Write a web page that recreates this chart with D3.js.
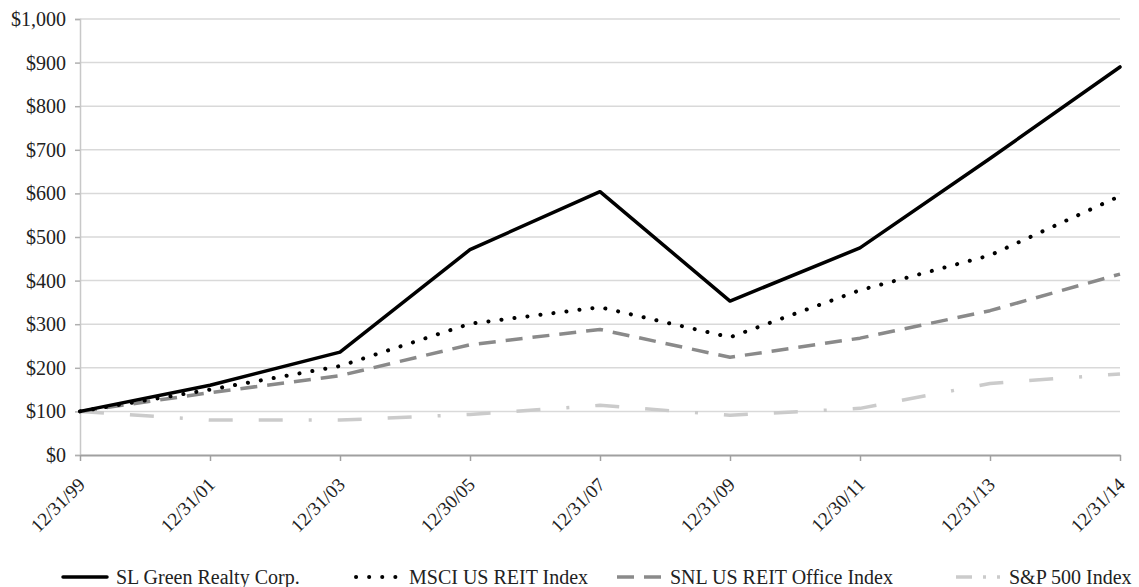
<!DOCTYPE html>
<html>
<head>
<meta charset="utf-8">
<script src="https://cdn.jsdelivr.net/npm/d3@7"></script>
<style>
  body { margin: 0; background: #fff; }
  text { font-family: "Liberation Serif", "Times New Roman", serif; fill: #222; }
</style>
</head>
<body>
<div id="chart"></div>
<script>
// values
var dates = ["12/31/99", "12/31/01", "12/31/03", "12/30/05", "12/31/07", "12/31/09", "12/30/11", "12/31/13", "12/31/14"];
var slGreen = [100, 160, 236, 471, 604, 353, 475, 680, 890];
var msci = [100, 150, 204, 301, 339, 270, 378, 458, 594];
var snl = [100, 143, 182, 253, 288, 224, 268, 331, 415];
var sp500 = [100, 80, 80, 93, 114, 91, 107, 164, 186];
var seriesNames = ["SL Green Realty Corp.", "MSCI US REIT Index", "SNL US REIT Office Index", "S&P 500 Index"];
var yTicks = [0, 100, 200, 300, 400, 500, 600, 700, 800, 900, 1000];

let width = 1139, height = 587;
let svg = d3.select("#chart").append("svg")
  .attr("width", width)
  .attr("height", height);

var x = d3.scalePoint().domain(dates).range([80, 1120]);
var y = d3.scaleLinear().domain([0, 1000]).range([455, 19]);

// gridlines
svg.append("g")
  .selectAll("line")
  .data(yTicks.slice(1))
  .enter()
  .append("line")
  .attr("x1", 80).attr("x2", 1120)
  .attr("y1", d => y(d)).attr("y2", d => y(d))
  .attr("stroke", "#d9d9d9")
  .attr("stroke-width", 1.5);

// y axis
var yAxis = svg.append("g")
  .attr("transform", "translate(80,0)")
  .call(d3.axisLeft(y).tickValues(yTicks).tickSize(5).tickPadding(9)
    .tickFormat(d => "$" + d3.format(",")(d)));
yAxis.select(".domain").attr("stroke", "#c8c8c8").attr("stroke-width", 1.5);
yAxis.selectAll(".tick line").attr("stroke", "#b0b0b0").attr("stroke-width", 1.5);
yAxis.selectAll("text").attr("font-size", 20).attr("fill", "#222");

// x axis
var xAxis = svg.append("g")
  .attr("transform", "translate(0,455)")
  .call(d3.axisBottom(x).tickSize(6).tickSizeOuter(0));
xAxis.select(".domain").attr("stroke", "#a0a0a0").attr("stroke-width", 2);
xAxis.selectAll(".tick line").attr("stroke", "#a0a0a0").attr("stroke-width", 1.5);
xAxis.selectAll("text")
  .attr("font-size", 19)
  .attr("fill", "#222")
  .attr("text-anchor", "end")
  .attr("transform", "translate(1,26) rotate(-45)")
  .attr("dy", "0.35em")
  .attr("y", 0);

var styles = [
  { data: slGreen, color: "#000", width: 3.5, dash: null, cap: "round", legendDash: null },
  { data: msci, color: "#000", width: 4, dash: "0.1,13", cap: "round", legendDash: "0.1,13" },
  { data: snl, color: "#8a8a8a", width: 3.5, dash: "17,10", cap: "butt", legendDash: "17,10" },
  { data: sp500, color: "#cbcbcb", width: 3.5, dash: "24,26,24,26,3,26", cap: "butt", legendDash: "16,11,3,11,16" }
];

var line = d3.line()
  .x((d, i) => x(dates[i]))
  .y(d => y(d));

// draw back to front so SL Green stays on top
styles.slice().reverse().forEach(function(s) {
  svg.append("path")
    .datum(s.data)
    .attr("d", line)
    .attr("fill", "none")
    .attr("stroke", s.color)
    .attr("stroke-width", s.width)
    .attr("stroke-dasharray", s.dash)
    .attr("stroke-linecap", s.cap)
    .attr("stroke-linejoin", "round");
});

// legend
var legendX = [63, 356, 617, 956];
var legendY = 577;
var legend = svg.append("g");
styles.forEach(function(s, i) {
  legend.append("line")
    .attr("x1", legendX[i]).attr("x2", legendX[i] + 44)
    .attr("y1", legendY).attr("y2", legendY)
    .attr("stroke", s.color)
    .attr("stroke-width", s.width)
    .attr("stroke-dasharray", s.legendDash)
    .attr("stroke-linecap", s.cap);
  legend.append("text")
    .attr("x", legendX[i] + 53)
    .attr("y", legendY)
    .attr("dy", "0.33em")
    .attr("font-size", 20)
    .text(seriesNames[i]);
});
</script>
</body>
</html>
